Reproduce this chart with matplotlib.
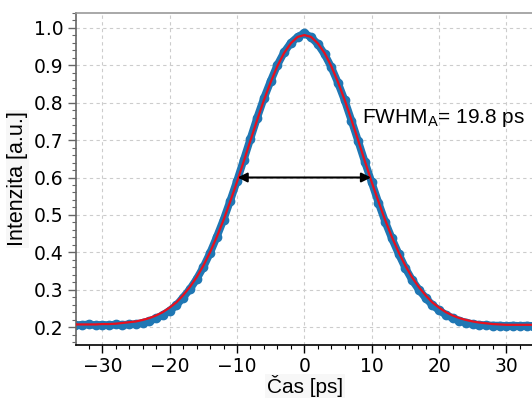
import matplotlib
matplotlib.use("Agg")
import matplotlib.pyplot as plt
from matplotlib.ticker import MultipleLocator

t_data = list(range(-34, 35))
i_data = [0.205, 0.206, 0.207, 0.205, 0.206, 0.205, 0.207, 0.206, 0.207, 0.208,
          0.211, 0.216, 0.223, 0.232, 0.244, 0.258, 0.279, 0.301, 0.328, 0.360,
          0.398, 0.441, 0.487, 0.538, 0.591, 0.647, 0.704, 0.760, 0.812, 0.858,
          0.901, 0.935, 0.960, 0.976, 0.986, 0.975, 0.957, 0.930, 0.895, 0.853,
          0.806, 0.752, 0.697, 0.641, 0.587, 0.533, 0.482, 0.437, 0.396, 0.358,
          0.326, 0.300, 0.278, 0.259, 0.245, 0.233, 0.224, 0.217, 0.212, 0.208,
          0.206, 0.205, 0.204, 0.204, 0.203, 0.204, 0.203, 0.204, 0.203]

# Fit curve
i_fit = [0.207, 0.207, 0.207, 0.207, 0.208, 0.208, 0.209, 0.211, 0.213, 0.215,
         0.219, 0.224, 0.231, 0.240, 0.252, 0.266, 0.285, 0.307, 0.333, 0.364,
         0.400, 0.441, 0.486, 0.536, 0.588, 0.643, 0.699, 0.754, 0.807, 0.855,
         0.898, 0.933, 0.959, 0.976, 0.981, 0.976, 0.959, 0.933, 0.898, 0.855,
         0.807, 0.754, 0.699, 0.643, 0.588, 0.536, 0.486, 0.441, 0.400, 0.364,
         0.333, 0.307, 0.285, 0.266, 0.252, 0.240, 0.231, 0.224, 0.219, 0.215,
         0.212, 0.210, 0.208, 0.207, 0.206, 0.206, 0.206, 0.206, 0.206]

fwhm = 19.8
half_level = 0.6

plt.rcParams["mathtext.fontset"] = "custom"
plt.rcParams["mathtext.rm"] = "Liberation Sans"
plt.rcParams["mathtext.it"] = "Liberation Sans"

fig = plt.figure(figsize=(5.32, 3.98), dpi=100)
ax = fig.add_axes([76/532, 53/398, 458/532, 332/398])

ax.plot(t_data, i_data, "o-", color="#1f77b4", lw=5.5, ms=6, zorder=2)
ax.plot(t_data, i_fit, color="#e8101e", lw=1.6, zorder=3)

ax.annotate("", xy=(-fwhm/2, half_level), xytext=(fwhm/2, half_level),
            arrowprops=dict(arrowstyle="<|-|>", color="black", lw=1.5,
                            mutation_scale=14, shrinkA=0, shrinkB=0), zorder=4)
ax.text(8.6, 0.76, r"FWHM$_\mathrm{A}$= 19.8 ps", fontsize=15,
        family="Liberation Sans", va="center", ha="left")

ax.set_xlim(-33.9, 34.1)
ax.set_ylim(0.152, 1.04)
ax.xaxis.set_major_locator(MultipleLocator(10))
ax.xaxis.set_minor_locator(MultipleLocator(2))
ax.yaxis.set_major_locator(MultipleLocator(0.1))
ax.yaxis.set_minor_locator(MultipleLocator(0.02))
ax.grid(True, which="major", ls=(0, (3, 3)), color="#cccccc", lw=0.8)
ax.set_axisbelow(True)

ax.tick_params(which="major", length=6, width=1, labelsize=13.5, pad=3)
ax.tick_params(which="minor", length=3, width=0.8)
ax.tick_params(axis="y", which="both", color="#666666")
ax.spines["right"].set_visible(False)
ax.spines["top"].set_color("#999999")
ax.spines["left"].set_color("#666666")
ax.spines["bottom"].set_color("black")
for s in ax.spines.values():
    s.set_linewidth(1.2)

ax.set_xlabel("Čas [ps]", fontsize=15, family="Liberation Sans", labelpad=-1,
              bbox=dict(facecolor="#f7f7f7", edgecolor="none", pad=1))
ax.set_ylabel("Intenzita [a.u.]", fontsize=15.5, family="Liberation Sans", labelpad=4,
              bbox=dict(facecolor="#f7f7f7", edgecolor="none", pad=1))

fig.savefig("out.png", dpi=100)
